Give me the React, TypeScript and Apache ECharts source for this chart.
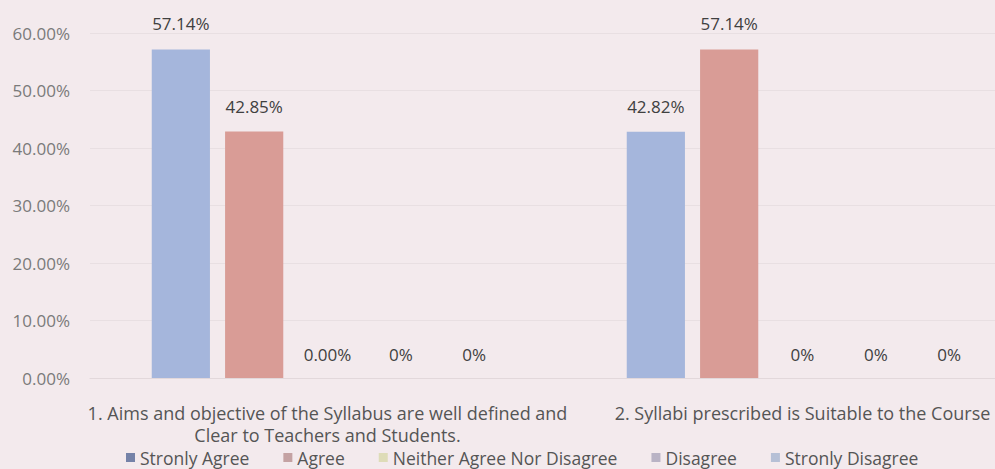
import React, { useEffect, useRef } from "react";
import * as echarts from "echarts";

const categories = [
  "1. Aims and objective of the Syllabus are well defined and\nClear to Teachers and Students.",
  "2. Syllabi prescribed is Suitable to the Course",
];
const seriesNames = ["Stronly Agree", "Agree", "Neither Agree Nor Disagree", "Disagree", "Stronly Disagree"];
const stronglyAgree = [57.14, 42.82];
const agree = [42.85, 57.14];
const neither = [0, 0];
const disagree = [0, 0];
const stronglyDisagree = [0, 0];
const labelTexts = [
  ["57.14%", "42.82%"],
  ["42.85%", "57.14%"],
  ["0.00%", "0%"],
  ["0%", "0%"],
  ["0%", "0%"],
];

const barColors = ["#a5b6dc", "#d99c96", "#dcdcb8", "#bdb6c8", "#b8c2d8"];
const legendColors = ["#7582a8", "#c4a2a3", "#dedcb8", "#b9b3c5", "#b6c0d6"];

export default function App() {
  const ref = useRef<HTMLDivElement>(null);
  useEffect(() => {
    document.body.style.margin = "0";
    const chart = echarts.init(ref.current!, null, { renderer: "svg" });
    const all = [stronglyAgree, agree, neither, disagree, stronglyDisagree];
    const font = "Open Sans";
    chart.setOption({
      animation: false,
      backgroundColor: "#f3eaed",
      textStyle: { fontFamily: font },
      grid: { left: 90, right: 0, top: 33, bottom: 91, containLabel: false },
      legend: {
        top: 443,
        left: 121,
        padding: [5, 5, 0, 5],
        itemWidth: 9,
        itemHeight: 9,
        itemGap: 34,
        icon: "rect",
        textStyle: { fontSize: 17.5, color: "#555", fontFamily: font, lineHeight: 19 },
        data: seriesNames.map((n, i) => ({ name: n, itemStyle: { color: legendColors[i] } })),
      },
      xAxis: {
        type: "category",
        data: categories,
        axisLine: { show: true, lineStyle: { color: "#e2d8db" } },
        axisTick: { show: false },
        axisLabel: { fontSize: 18, color: "#555", lineHeight: 22, margin: 24, interval: 0 },
      },
      yAxis: {
        type: "value",
        min: 0,
        max: 60,
        interval: 10,
        axisLine: { show: false },
        axisTick: { show: false },
        splitLine: { lineStyle: { color: "#e8dfe2" } },
        axisLabel: {
          fontSize: 17,
          color: "#7a7a7a",
          margin: 20,
          formatter: (v: number) => v.toFixed(2) + "%",
        },
      },
      series: all.map((d, i) => ({
        name: seriesNames[i],
        type: "bar",
        data: d,
        barGap: "26%",
        barCategoryGap: "26%",
        itemStyle: { color: barColors[i] },
        label: {
          show: true,
          position: "top",
          distance: i === 0 || i === 1 ? 17 : 15,
          fontSize: 17,
          color: "#404040",
          formatter: (p: any) => labelTexts[i][p.dataIndex],
        },
      })),
    });
    return () => chart.dispose();
  }, []);
  return (
    <div style={{ width: 995, height: 469, overflow: "hidden" }}>
      <div ref={ref} style={{ width: 1040, height: 469 }} />
    </div>
  );
}
